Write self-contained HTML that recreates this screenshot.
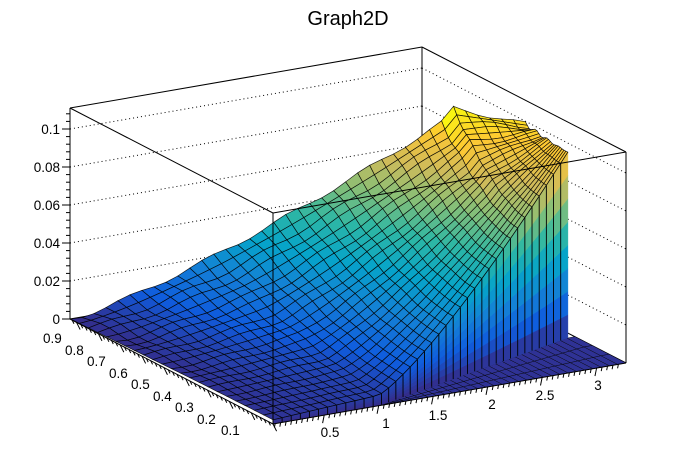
<!DOCTYPE html>
<html><head><meta charset="utf-8"><style>
html,body{margin:0;padding:0;background:#fff}
svg{display:block}
text{font-family:"Liberation Sans",sans-serif;fill:#000}
</style></head><body>
<svg id="s" width="696" height="472" viewBox="0 0 696 472" xmlns="http://www.w3.org/2000/svg">
<rect width="696" height="472" fill="#fff"/>
<text x="348" y="25" font-size="20" text-anchor="middle">Graph2D</text>
<g id="back"></g>
<g id="surf"></g>
<g id="front"></g>
<g font-size="13.5">
<text x="60" y="134" text-anchor="end">0.1</text>
<text x="60" y="172" text-anchor="end">0.08</text>
<text x="60" y="210" text-anchor="end">0.06</text>
<text x="60" y="248" text-anchor="end">0.04</text>
<text x="60" y="286" text-anchor="end">0.02</text>
<text x="60" y="324" text-anchor="end">0</text>
<text x="43" y="343">0.9</text>
<text x="65" y="355">0.8</text>
<text x="87" y="366">0.7</text>
<text x="109" y="378">0.6</text>
<text x="131" y="389">0.5</text>
<text x="153" y="401">0.4</text>
<text x="175" y="412">0.3</text>
<text x="197" y="424">0.2</text>
<text x="221" y="435">0.1</text>
<text x="330" y="437" text-anchor="middle">0.5</text>
<text x="386" y="428" text-anchor="middle">1</text>
<text x="438" y="420" text-anchor="middle">1.5</text>
<text x="492" y="409" text-anchor="middle">2</text>
<text x="545" y="400" text-anchor="middle">2.5</text>
<text x="598" y="390" text-anchor="middle">3</text>
</g>
</svg>
<script>
(function(){
var NS="http://www.w3.org/2000/svg";
function el(p,t,a){var e=document.createElementNS(NS,t);for(var k in a)e.setAttribute(k,a[k]);p.appendChild(e);return e;}
function P(u,v,w){return [273+353*u-203*v,424-61*u-105*v-211*w];}
function pt(a){return a[0].toFixed(1)+","+a[1].toFixed(1);}
var R=[0.2082,0.0592,0.0780,0.0232,0.1802,0.5301,0.8186,0.9956,0.9764],
G=[0.1664,0.3599,0.5041,0.6419,0.7178,0.7492,0.7328,0.7862,0.9832],
B=[0.5293,0.8684,0.8385,0.7914,0.6425,0.4662,0.3499,0.1968,0.0539];
function col(w){w=Math.max(0,Math.min(0.999,w));var f=w*8,i=Math.floor(f),t=f-i;
function c(a){return Math.round(255*(a[i]+(a[i+1]-a[i])*t));}
return "rgb("+c(R)+","+c(G)+","+c(B)+")";}
var back=document.getElementById("back"),surf=document.getElementById("surf"),front=document.getElementById("front");
function line(g,a,b,extra){var o={x1:a[0],y1:a[1],x2:b[0],y2:b[1],stroke:"#000","stroke-width":1};for(var k in extra)o[k]=extra[k];el(g,"line",o);}
line(back,[70,319],[70,108]);line(back,[422,258],[422,47]);
line(back,[70,319],[422,258]);line(back,[422,258],[626,363]);
for(var z=0.02;z<0.105;z+=0.02){var d=1900*z;
line(back,[70,319-d],[422,258-d],{"stroke-dasharray":"1,3"});
line(back,[422,258-d],[626,363-d],{"stroke-dasharray":"1,3"});}
line(back,[70,108],[422,47]);line(back,[422,47],[626,152]);
for(var i=0;i<=27;i++){var y=319-i*0.004*1900;var L=(i%5==0)?8:4;line(back,[70-L,y],[70,y]);}
var UMAX=0.98;
function vlo(u){return Math.max(0,(u-0.3)*0.37);}
function vhi(u){return 1-0.55*u;}
function wn(u){return u<0.3?0.02+0.1*u:0.05+0.83*Math.pow((u-0.3)/0.68,1.3);}
function wf(u){var a=u<0.8?1.2*Math.pow(u,1.2):1.0-0.5*(u-0.8);return Math.min(1,a);}
function W(u,t){var a=wn(u),b=wf(u);var w=a+(b-a)*Math.pow(t,1.6);w+=0.012*Math.sin(u*37)*Math.sin(t*23)*t;return Math.max(0,Math.min(1.02,w));}
function S(u,t){var v=vlo(u)+(vhi(u)-vlo(u))*t;return P(u,v,W(u,t));}
var NU=38,NT=22,cells=[];
for(var i=0;i<NU;i++)for(var j=0;j<NT;j++){var u0=i/NU*UMAX,u1=(i+1)/NU*UMAX,t0=j/NT,t1=(j+1)/NT;
var um=(u0+u1)/2,tm=(t0+t1)/2,vm=vlo(um)+(vhi(um)-vlo(um))*tm;
cells.push({d:424-61*um-105*vm,p:[S(u0,t0),S(u1,t0),S(u1,t1),S(u0,t1)],w:W(um,tm)});}
cells.sort(function(a,b){return a.d-b.d;});
cells.forEach(function(c){el(surf,"polygon",{points:c.p.map(pt).join(" "),fill:col(c.w),stroke:"#000","stroke-width":0.7,"stroke-opacity":0.85});});
var NF=30;
for(var i=0;i<NF;i++){var u0=0.3+i/NF*0.7,u1=0.3+(i+1)/NF*0.7;
for(var j=0;j<3;j++){var a0=j/3,a1=(j+1)/3;
var q=[P(u0,vlo(Math.min(u0,UMAX))*a0,0),P(u1,vlo(Math.min(u1,UMAX))*a0,0),P(u1,vlo(Math.min(u1,UMAX))*a1,0),P(u0,vlo(Math.min(u0,UMAX))*a1,0)];
el(surf,"polygon",{points:q.map(pt).join(" "),fill:col(0.02),stroke:"#000","stroke-width":0.4});}}
for(var i=0;i<NU;i++){var u0=i/NU*UMAX,u1=(i+1)/NU*UMAX;
var h0=W(u0,0),h1=W(u1,0),NB=8;
for(var k=0;k<NB;k++){var f0=k/NB,f1=(k+1)/NB;
var q=[P(u0,vlo(u0),h0*f0),P(u1,vlo(u1),h1*f0),P(u1,vlo(u1),h1*f1),P(u0,vlo(u0),h0*f1)];
el(surf,"polygon",{points:q.map(pt).join(" "),fill:col((h0+h1)/2*(f0+f1)/2),stroke:col((h0+h1)/2*(f0+f1)/2),"stroke-width":0.5});}
line(surf,P(u0,vlo(u0),0),P(u0,vlo(u0),h0),{"stroke-width":0.9});
line(surf,P(u0,vlo(u0),h0),P(u1,vlo(u1),h1),{"stroke-width":0.7});}
line(front,[273,213],[273,424]);line(front,[70,108],[273,213]);line(front,[273,213],[626,152]);
line(front,[626,152],[626,363]);
line(front,[70,319],[273,424]);line(front,[273,424],[626,363]);
for(var i=0;i<=46;i++){var v=i*0.02/0.93;if(v>1)break;var a=P(0,v,0);var L=(i%5==0)?8:4;line(front,a,[a[0]+L*0.45,a[1]+L*0.9]);}
for(var i=0;i<=64;i++){var x=i*0.05;var u=(x-0.03)/3.24;if(u<0||u>1)continue;var a=P(u,0,0);var L=(i%10==0)?8:4;line(front,a,[a[0]-L*0.2,a[1]+L]);}
})();
</script>
</body></html>
